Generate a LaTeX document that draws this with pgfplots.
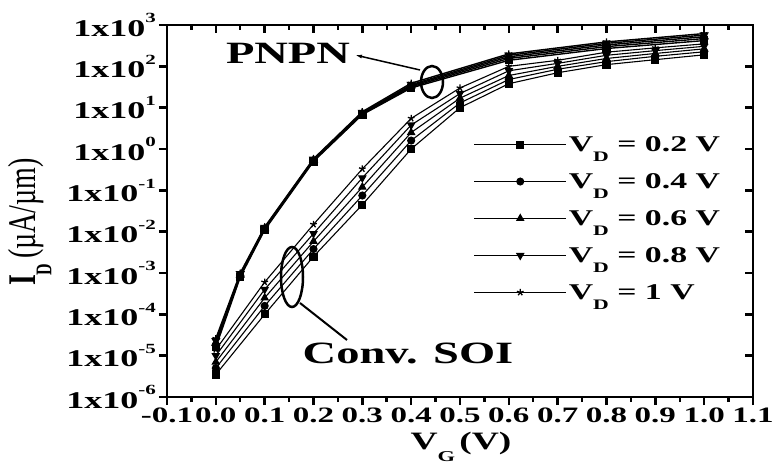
\documentclass[border=0pt]{standalone}
\usepackage{fontspec}
\setmainfont{Liberation Serif}[FakeStretch=1.5]
\newfontfamily\plainserif{Liberation Serif}
\usepackage{graphicx}
\usepackage{pgfplots}
\pgfplotsset{compat=1.18}
\usetikzlibrary{arrows.meta}

% tick label with a raised decade exponent
\newcommand{\dec}[1]{\mbox{\fontsize{24}{24}\selectfont\bfseries 1x10\raisebox{0.55em}{\fontsize{14}{14}\selectfont #1}}}
% x tick label
\newcommand{\xl}[1]{\mbox{\fontsize{22}{23}\selectfont\bfseries #1}}
% legend text V_D = ... V
\newcommand{\vd}[1]{V\raisebox{-0.45em}{\fontsize{14.5}{15}\selectfont D}\ = #1 V}

\begin{document}
\begin{tikzpicture}
\begin{axis}[
  name=ax,
  scale only axis, width=586pt, height=372pt,
  ymode=log,
  xmin=-0.1, xmax=1.1, ymin=1e-6, ymax=1e3,
  xtick={-0.1,0,0.1,0.2,0.3,0.4,0.5,0.6,0.7,0.8,0.9,1.0,1.1},
  xticklabels={\xl{-0.1},\xl{0.0},\xl{0.1},\xl{0.2},\xl{0.3},\xl{0.4},\xl{0.5},\xl{0.6},\xl{0.7},\xl{0.8},\xl{0.9},\xl{1.0},\xl{1.1}},
  minor x tick num=1,
  ytick={1e-6,1e-5,1e-4,1e-3,1e-2,1e-1,1e0,1e1,1e2,1e3},
  yticklabels={\dec{-6},\dec{-5},\dec{-4},\dec{-3},\dec{-2},\dec{-1},\dec{0},\dec{1},\dec{2},\dec{3}},
  yminorticks=false,
  xtick pos=bottom, ytick pos=left,
  tick align=outside,
  major tick length=8pt, minor tick length=5pt,
  every tick/.style={black, line width=2.5pt},
  axis line style={line width=2.8pt},
  xticklabel style={inner sep=1pt, yshift=-2pt},
  yticklabel style={inner sep=3pt},
  clip=false,
  legend style={draw=none, fill=none, at={(0.518,0.712)}, anchor=north west,
    font=\fontsize{22.5}{26}\selectfont\bfseries, row sep=16.5pt,
    cells={anchor=west}},
  legend image code/.code={%
    \draw[mark repeat=2, mark phase=2, #1, line width=1pt] plot coordinates {(0pt,0pt) (46pt,0pt) (92pt,0pt)};},
  every axis plot/.append style={black},
]
% PNPN devices
\addplot[line width=1.4pt, mark=square*, mark size=3.5pt] coordinates {
  (0,1.6e-5) (0.05,8e-4) (0.1,1.1e-2) (0.2,0.5) (0.3,6.8) (0.4,30) (0.6,140) (0.8,270) (1.0,420)};
\addlegendentry{\vd{0.2}}
\addplot[line width=1.4pt, mark=*, mark size=3.5pt] coordinates {
  (0,1.8e-5) (0.05,8.5e-4) (0.1,1.15e-2) (0.2,0.52) (0.3,7.0) (0.4,32) (0.6,155) (0.8,300) (1.0,470)};
\addlegendentry{\vd{0.4}}
\addplot[line width=1.4pt, mark=triangle*, mark size=4pt] coordinates {
  (0,2.0e-5) (0.05,9e-4) (0.1,1.2e-2) (0.2,0.54) (0.3,7.3) (0.4,34) (0.6,170) (0.8,330) (1.0,520)};
\addlegendentry{\vd{0.6}}
\addplot[line width=1.4pt, mark=triangle*, mark size=4pt, mark options={rotate=180}] coordinates {
  (0,2.3e-5) (0.05,9.5e-4) (0.1,1.25e-2) (0.2,0.56) (0.3,7.6) (0.4,36) (0.6,185) (0.8,360) (1.0,570)};
\addlegendentry{\vd{0.8}}
\addplot[line width=1.4pt, mark=star, mark size=3.5pt, mark options={line width=1.3pt}] coordinates {
  (0,2.6e-5) (0.05,1.0e-3) (0.1,1.3e-2) (0.2,0.58) (0.3,8.0) (0.4,39) (0.6,200) (0.8,390) (1.0,620)};
\addlegendentry{\vd{1}}
% conventional SOI devices
\addplot[forget plot, line width=1.1pt, mark=square*, mark size=3.5pt] coordinates {
  (0,3.5e-6) (0.1,1.0e-4) (0.2,2.5e-3) (0.3,0.045) (0.4,1.0) (0.5,10) (0.6,38) (0.7,70) (0.8,110) (0.9,145) (1.0,190)};
\addplot[forget plot, line width=1.1pt, mark=*, mark size=3.5pt] coordinates {
  (0,5e-6) (0.1,1.6e-4) (0.2,3.8e-3) (0.3,0.075) (0.4,1.6) (0.5,13) (0.6,48) (0.7,85) (0.8,130) (0.9,175) (1.0,225)};
\addplot[forget plot, line width=1.1pt, mark=triangle*, mark size=4pt] coordinates {
  (0,7e-6) (0.1,2.5e-4) (0.2,5.8e-3) (0.3,0.12) (0.4,2.5) (0.5,17) (0.6,60) (0.7,100) (0.8,155) (0.9,205) (1.0,265)};
\addplot[forget plot, line width=1.1pt, mark=triangle*, mark size=4pt, mark options={rotate=180}] coordinates {
  (0,1.0e-5) (0.1,4e-4) (0.2,9e-3) (0.3,0.2) (0.4,3.8) (0.5,22) (0.6,78) (0.7,118) (0.8,185) (0.9,240) (1.0,305)};
\addplot[forget plot, line width=1.1pt, mark=star, mark size=3.5pt, mark options={line width=1.3pt}] coordinates {
  (0,1.4e-5) (0.1,6e-4) (0.2,1.5e-2) (0.3,0.33) (0.4,5.5) (0.5,30) (0.6,100) (0.7,140) (0.8,220) (0.9,280) (1.0,350)};
\end{axis}
% mirrored ticks on the top and right edges, pointing inward
\begin{axis}[
  scale only axis, width=586pt, height=372pt,
  ymode=log,
  xmin=-0.1, xmax=1.1, ymin=1e-6, ymax=1e3,
  xtick={-0.1,0,0.1,0.2,0.3,0.4,0.5,0.6,0.7,0.8,0.9,1.0,1.1},
  minor x tick num=1,
  ytick={1e-6,1e-5,1e-4,1e-3,1e-2,1e-1,1e0,1e1,1e2,1e3},
  yminorticks=false,
  xticklabels={}, yticklabels={},
  xtick pos=top, ytick pos=right,
  tick align=inside,
  major tick length=8pt, minor tick length=5pt,
  every tick/.style={black, line width=2.5pt},
  axis line style={line width=2.8pt},
]
\end{axis}
% labels and annotations
\begin{scope}[shift={(ax.south west)}]
  \node[font=\fontsize{25}{25}\selectfont\bfseries] at (294pt,-50pt)
    {V\raisebox{-0.45em}{\fontsize{15}{15}\selectfont G}\,(V)};
  \node[rotate=90] at (-137pt,175pt)
    {\scalebox{1}[1.4]{\plainserif\fontsize{28}{28}\selectfont\textbf{I\raisebox{-0.4em}{\fontsize{16}{16}\selectfont D}}\,(µA/µm)}};
  \node[font=\fontsize{31}{31}\selectfont\bfseries] at (121pt,344pt) {PNPN};
  \draw[line width=2.5pt] (265pt,315pt) ellipse [x radius=11pt, y radius=16pt];
  \draw[line width=1.5pt, -{Latex[length=7pt,width=4pt]}] (253pt,327pt) -- (188pt,342pt);
  \draw[line width=2.5pt] (125pt,120pt) ellipse [x radius=11pt, y radius=30pt];
  \draw[line width=2pt] (133pt,94pt) -- (180pt,57pt);
  \node[font=\fontsize{31}{31}\selectfont\bfseries] at (241pt,43.5pt) {Conv. SOI};
\end{scope}
\pgfresetboundingbox
\path[use as bounding box] ([shift={(-167pt,-77pt)}]ax.south west) rectangle ([shift={(19pt,25pt)}]ax.north east);
\end{tikzpicture}
\end{document}
